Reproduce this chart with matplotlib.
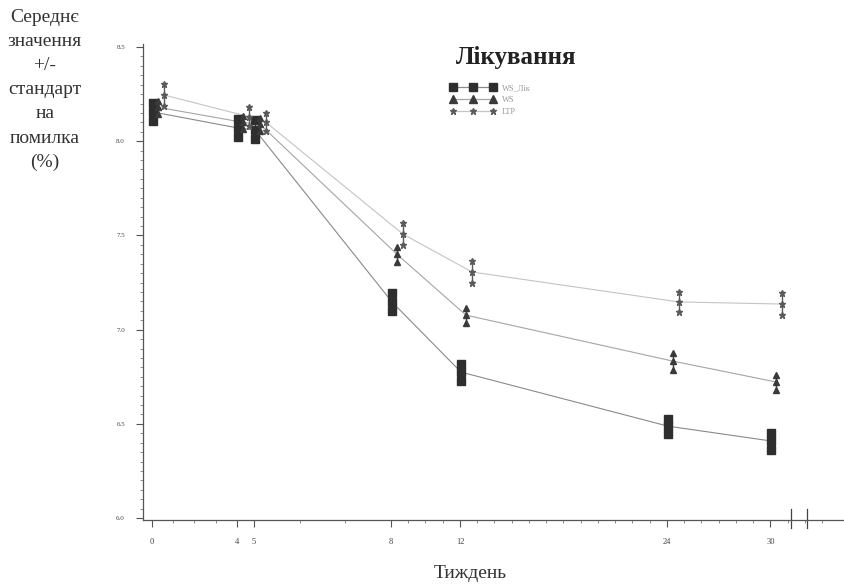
import numpy as np
import matplotlib
matplotlib.use("Agg")
import matplotlib.pyplot as plt
from matplotlib.lines import Line2D
from matplotlib.transforms import offset_copy

# data
weeks = [0, 4, 5, 8, 12, 24, 30]
tick_labels = ["0", "4", "5", "8", "12", "24", "30"]
series_names = ["WS_Лік", "WS", "LTP"]
mean_ws_lik = [8.155, 8.07, 8.06, 7.147, 6.775, 6.488, 6.409]
mean_ws = [8.18, 8.10, 8.09, 7.40, 7.077, 6.833, 6.722]
mean_ltp = [8.245, 8.13, 8.10, 7.507, 7.306, 7.147, 7.136]
se_ws_lik = [0.05, 0.05, 0.05, 0.05, 0.045, 0.04, 0.045]
se_ws = [0.035, 0.035, 0.035, 0.04, 0.04, 0.045, 0.04]
se_ltp = [0.06, 0.05, 0.048, 0.058, 0.058, 0.055, 0.058]

# stretched axis of the original: week -> drawing units (~pixels)
knot_w = [-10, 0, 4, 5, 8, 50]
knot_p = [100, 152, 237, 254, 391, 391 + 42 * 17.25]


def fwd(w):
    return np.interp(w, knot_w, knot_p)


def inv(p):
    return np.interp(p, knot_p, knot_w)


plt.rcParams['font.family'] = ['Liberation Serif', 'DejaVu Serif']

fig = plt.figure(figsize=(8.44, 5.86), dpi=100)
ax = fig.add_axes([0.1694, 0.1126, 0.8306, 0.8124])
ax.set_xscale('function', functions=(fwd, inv))

styles = [
    dict(marker='s', ms=5.5, mc='#2e2e2e', lc='#8a8a8a', dx=1),
    dict(marker='^', ms=5, mc='#3a3a3a', lc='#a5a5a5', dx=6),
    dict(marker='*', ms=4.5, mc='#5a5a5a', lc='#c4c4c4', dx=12),
]
means = [mean_ws_lik, mean_ws, mean_ltp]
ses = [se_ws_lik, se_ws, se_ltp]

handles = []
for name, m, s, st in zip(series_names, means, ses, styles):
    tr = offset_copy(ax.transData, fig=fig, x=st['dx'] * 0.72, y=0, units='points')
    m = np.array(m)
    s = np.array(s)
    ax.plot(weeks, m, color=st['lc'], lw=0.8, transform=tr, zorder=2)
    ax.vlines(weeks, m - s, m + s, color=st['mc'], lw=1.0, transform=tr, zorder=3)
    for yy in (m - s, m, m + s):
        ax.plot(weeks, yy, ls='none', marker=st['marker'], ms=st['ms'],
                color=st['mc'], transform=tr, zorder=4)
    handles.append(Line2D([], [], color=st['lc'], lw=0.9, marker=st['marker'],
                          ms=st['ms'] + 0.5, mfc=st['mc'], mec=st['mc']))

ax.set_xlim(inv(143), inv(844))
ax.set_ylim(5.99, 8.516)

ax.set_xticks(weeks)
ax.set_xticklabels(tick_labels, fontsize=6, color='#444444')
ax.set_xticks(list(range(1, 34)), minor=True)
ax.set_yticks([6.0, 6.5, 7.0, 7.5, 8.0, 8.5])
ax.set_yticklabels(["6.0", "6.5", "7.0", "7.5", "8.0", "8.5"], fontsize=5, color='#444444')
ax.set_yticks(np.arange(6.0, 8.51, 0.05), minor=True)
ax.tick_params(axis='both', which='major', length=5, width=0.8, color='#555555', pad=8)
ax.tick_params(axis='both', which='minor', length=2.5, width=0.6, color='#777777')
for sp in ['top', 'right']:
    ax.spines[sp].set_visible(False)
for sp in ['left', 'bottom']:
    ax.spines[sp].set_color('#555555')
    ax.spines[sp].set_linewidth(0.9)

# axis break marks
for wb in (31.2, 32.1):
    ax.plot([wb, wb], [5.95, 6.05], color='#444444', lw=0.9, clip_on=False)

# legend
ax.text(0.532, 0.972, "Лікування", transform=ax.transAxes, fontsize=18,
        fontweight='bold', ha='center', va='center', color='#222222')
ax.legend(handles, series_names, loc='upper left', bbox_to_anchor=(0.43, 0.928),
          frameon=False, numpoints=3, handlelength=5.4, fontsize=6,
          labelspacing=0.45, handletextpad=0.8, borderpad=0.2, labelcolor='#9a9a9a')

fig.text(0.053, 0.985, "Середнє\nзначення\n+/-\nстандарт\nна\nпомилка\n(%)",
         ha='center', va='top', fontsize=14, linespacing=1.55, color='#333333')
fig.text(0.557, 0.006, "Тиждень", ha='center', va='bottom', fontsize=14, color='#333333')

fig.savefig("out.png", dpi=100)
